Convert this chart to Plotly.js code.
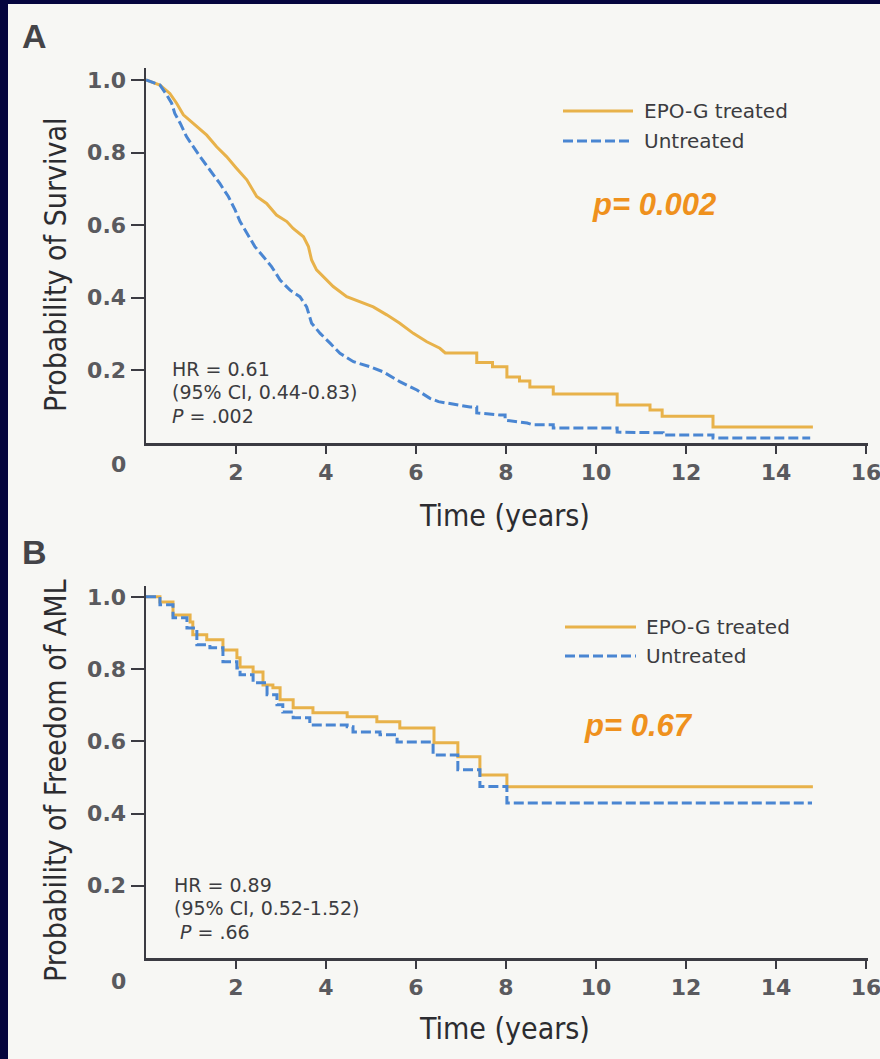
<!DOCTYPE html>
<html>
<head>
<meta charset="utf-8">
<script src="https://cdn.plot.ly/plotly-3.0.1.min.js"></script>
<style>
  html, body { margin: 0; padding: 0; background: #06063e; width: 880px; height: 1059px; overflow: hidden; }
  #chart { position: absolute; left: 8px; top: 4px; width: 900px; height: 1055px; }
</style>
</head>
<body>
<div id="chart"></div>
<script>
// ---------- Data ----------
// Panel A: overall survival (curve vertices; late part has visible step corners)
const survTreatedTime = [0, 0.31, 0.53, 0.68, 0.83, 1.05, 1.35, 1.57, 1.79, 2.01, 2.24, 2.46, 2.68, 2.90, 3.13, 3.27, 3.50, 3.61, 3.68, 3.79, 3.94, 4.16, 4.46, 4.76, 5.05, 5.35, 5.64, 5.94, 6.24, 6.53, 6.65, 7.35, 7.35, 7.70, 7.70, 8.02, 8.02, 8.30, 8.30, 8.53, 8.53, 9.05, 9.05, 10.47, 10.47, 11.20, 11.20, 11.47, 11.47, 12.60, 12.60, 14.82];
const survTreatedProb = [1.0, 0.986, 0.963, 0.936, 0.904, 0.881, 0.848, 0.816, 0.789, 0.757, 0.725, 0.679, 0.660, 0.628, 0.610, 0.591, 0.568, 0.541, 0.504, 0.477, 0.458, 0.431, 0.403, 0.389, 0.375, 0.353, 0.330, 0.302, 0.279, 0.261, 0.248, 0.248, 0.222, 0.222, 0.210, 0.210, 0.182, 0.182, 0.171, 0.171, 0.154, 0.154, 0.135, 0.135, 0.105, 0.105, 0.091, 0.091, 0.074, 0.074, 0.044, 0.044];

const survUntreatedTime = [0, 0.31, 0.46, 0.57, 0.64, 0.76, 0.90, 1.05, 1.20, 1.42, 1.64, 1.83, 1.98, 2.09, 2.24, 2.42, 2.61, 2.79, 2.98, 3.20, 3.42, 3.57, 3.68, 3.87, 4.09, 4.31, 4.61, 4.98, 5.27, 5.64, 6.02, 6.31, 6.50, 6.90, 7.20, 7.35, 7.35, 7.87, 7.98, 7.98, 8.47, 8.60, 9.05, 9.05, 10.47, 10.47, 11.27, 11.49, 11.49, 12.60, 12.60, 14.76];
const survUntreatedProb = [1.0, 0.986, 0.959, 0.936, 0.908, 0.881, 0.844, 0.816, 0.789, 0.752, 0.715, 0.679, 0.642, 0.610, 0.578, 0.541, 0.513, 0.486, 0.449, 0.421, 0.403, 0.375, 0.330, 0.302, 0.275, 0.247, 0.224, 0.210, 0.196, 0.169, 0.146, 0.123, 0.114, 0.105, 0.099, 0.099, 0.083, 0.077, 0.077, 0.063, 0.055, 0.050, 0.050, 0.041, 0.041, 0.030, 0.028, 0.028, 0.022, 0.022, 0.014, 0.014];

// Panel B: freedom of AML (Kaplan-Meier step values)
const amlTreatedTime = [0, 0.31, 0.60, 0.98, 1.04, 1.35, 1.71, 2.02, 2.09, 2.38, 2.60, 2.82, 2.98, 3.27, 3.71, 4.47, 5.13, 5.64, 6.40, 6.93, 7.42, 8.02, 14.82];
const amlTreatedProb = [1.0, 0.986, 0.950, 0.930, 0.895, 0.881, 0.853, 0.831, 0.806, 0.792, 0.756, 0.748, 0.715, 0.693, 0.679, 0.668, 0.654, 0.637, 0.596, 0.557, 0.507, 0.474, 0.474];

const amlUntreatedTime = [0, 0.31, 0.60, 0.91, 1.13, 1.42, 1.71, 2.02, 2.09, 2.38, 2.69, 2.91, 3.04, 3.27, 3.64, 4.47, 4.60, 5.20, 5.58, 6.38, 6.93, 7.42, 8.02, 14.80];
const amlUntreatedProb = [1.0, 0.978, 0.942, 0.914, 0.867, 0.859, 0.820, 0.803, 0.784, 0.762, 0.729, 0.701, 0.681, 0.665, 0.645, 0.640, 0.626, 0.618, 0.598, 0.562, 0.521, 0.475, 0.429, 0.429];

const seriesNames = ["EPO-G treated", "Untreated"];
const xTickVals = [2, 4, 6, 8, 10, 12, 14, 16];
const yTickVals = [0.2, 0.4, 0.6, 0.8, 1.0];
const yTickText = ["0.2", "0.4", "0.6", "0.8", "1.0"];

// ---------- Styling / layout helpers ----------
const W = 900, H = 1055, OX = 8, OY = 4;
const px = x => (x - OX) / W;          // page x pixel -> paper
const py = y => 1 - (y - OY) / H;      // page y pixel -> paper

const ORANGE = "#e8b24a";
const BLUE = "#4a86d2";
const AXIS = "#3b3b42";
const TEXT = "#3c3c40";
const PORANGE = "#ef911d";

const tickFont = { family: "DejaVu Sans, Verdana, sans-serif", size: 22, color: "#5a5a5e", weight: "bold" };

const X_MAX = 16.05;
function xAxis(yAnchor) {
  return {
    domain: [px(146), px(146 + 45 * X_MAX)], range: [0, X_MAX], anchor: yAnchor,
    showline: true, linecolor: AXIS, linewidth: 2.5,
    ticks: "outside", ticklen: 8, tickwidth: 2, tickcolor: AXIS,
    tickmode: "array", tickvals: xTickVals, tickfont: tickFont, ticklabeloverflow: "allow",
    showgrid: false, zeroline: false, fixedrange: true
  };
}
function yAxis(xAnchor, domain, top) {
  return {
    domain: domain, range: [0, top], anchor: xAnchor,
    showline: true, linecolor: AXIS, linewidth: 2.5,
    ticks: "outside", ticklen: 13, tickwidth: 2, tickcolor: AXIS,
    tickmode: "array", tickvals: yTickVals, ticktext: yTickText, tickfont: tickFont,
    showgrid: false, zeroline: false, fixedrange: true
  };
}

const traces = [
  { x: survTreatedTime, y: survTreatedProb, name: seriesNames[0], xaxis: "x", yaxis: "y",
    mode: "lines", line: { color: ORANGE, width: 3 }, showlegend: false },
  { x: survUntreatedTime, y: survUntreatedProb, name: seriesNames[1], xaxis: "x", yaxis: "y",
    mode: "lines", line: { color: BLUE, width: 3, dash: "10px,4px" }, showlegend: false },
  { x: amlTreatedTime, y: amlTreatedProb, name: seriesNames[0], xaxis: "x2", yaxis: "y2",
    mode: "lines", line: { color: ORANGE, width: 3, shape: "hv" }, showlegend: false },
  { x: amlUntreatedTime, y: amlUntreatedProb, name: seriesNames[1], xaxis: "x2", yaxis: "y2",
    mode: "lines", line: { color: BLUE, width: 3, shape: "hv", dash: "10px,4px" }, showlegend: false }
];

function ann(text, xPage, yPage, opts) {
  return Object.assign({
    text: text, xref: "paper", yref: "paper", x: px(xPage), y: py(yPage),
    xanchor: "left", yanchor: "middle", showarrow: false,
    font: { family: "DejaVu Sans, Verdana, sans-serif", size: 19, color: TEXT }
  }, opts || {});
}

const titleFont = { family: "DejaVu Sans Condensed, DejaVu Sans, sans-serif", size: 30, color: "#2c2c30" };
const legFont = { family: "DejaVu Sans, Verdana, sans-serif", size: 20, color: TEXT };
const pFont = { family: "Liberation Sans, Arial, sans-serif", size: 31, color: PORANGE, weight: "bold", style: "italic" };
const panelFont = { family: "Liberation Sans, Arial, sans-serif", size: 34, color: "#444448", weight: "bold" };

const annotations = [
  // panel letters
  ann("A", 20, 36, { font: panelFont }),
  ann("B", 20, 552, { font: panelFont }),
  // axis titles
  ann("Probability of Survival", 55, 265, { xanchor: "center", textangle: -90, font: titleFont }),
  ann("Probability of Freedom of AML", 55, 781, { xanchor: "center", textangle: -90, font: titleFont }),
  ann("Time (years)", 505, 515, { xanchor: "center", font: titleFont }),
  ann("Time (years)", 505, 1028, { xanchor: "center", font: titleFont }),
  // x "0" labels
  ann("0", 118, 465, { xanchor: "center", font: tickFont }),
  ann("0", 118, 981, { xanchor: "center", font: tickFont }),
  // legends
  ann(seriesNames[0], 642, 111, { font: legFont }),
  ann(seriesNames[1], 642, 141, { font: legFont }),
  ann(seriesNames[0], 644, 627, { font: legFont }),
  ann(seriesNames[1], 644, 656, { font: legFont }),
  // p-values
  ann("p= 0.002", 590, 205, { font: pFont }),
  ann("p= 0.67", 582, 725, { font: pFont }),
  // HR text A
  ann("HR = 0.61", 170, 369),
  ann("(95% CI, 0.44-0.83)", 170, 392),
  ann("<i>P</i> = .002", 170, 416),
  // HR text B
  ann("HR = 0.89", 172, 885),
  ann("(95% CI, 0.52-1.52)", 172, 908),
  ann("<i>P</i> = .66", 178, 932)
];

function legLine(x0, x1, y, color, dash) {
  return { type: "line", xref: "paper", yref: "paper", x0: px(x0), x1: px(x1), y0: py(y), y1: py(y),
           line: { color: color, width: 3, dash: dash || "solid" } };
}
const shapes = [
  legLine(563, 633, 111, ORANGE),
  legLine(563, 633, 141, BLUE, "10px,4px"),
  legLine(565, 636, 627, ORANGE),
  legLine(565, 636, 656, BLUE, "10px,4px")
];

const layout = {
  width: W, height: H,
  margin: { l: 0, r: 0, t: 0, b: 0, pad: 0 },
  paper_bgcolor: "#f7f7f4", plot_bgcolor: "rgba(0,0,0,0)",
  showlegend: false,
  xaxis: xAxis("y"),
  yaxis: yAxis("x", [py(443), py(68)], 1.033),
  xaxis2: xAxis("y2"),
  yaxis2: yAxis("x2", [py(958), py(586)], 1.030),
  annotations: annotations,
  shapes: shapes
};

Plotly.newPlot("chart", traces, layout, { displayModeBar: false, staticPlot: true });
</script>
</body>
</html>
